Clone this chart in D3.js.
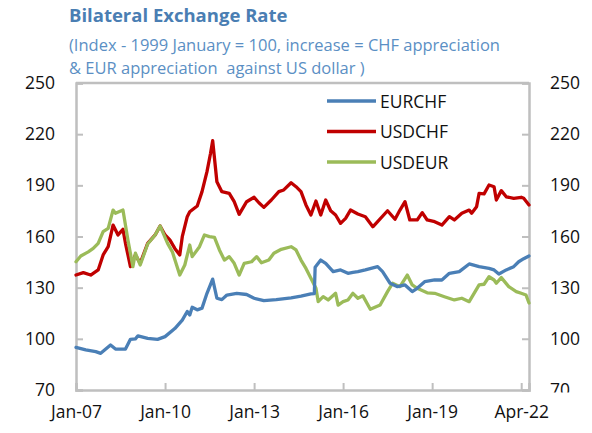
<!DOCTYPE html>
<html><head><meta charset="utf-8">
<script src="https://cdn.jsdelivr.net/npm/d3@7"></script>
<style>body{margin:0;background:#fff} svg{display:block} text{white-space:pre}</style>
</head><body>
<svg id="c" width="592" height="433"></svg>
<script>
// ---------- data ----------
const title = "Bilateral Exchange Rate";
const subtitle1 = "(Index - 1999 January = 100, increase = CHF appreciation";
const subtitle2 = "& EUR appreciation  against US dollar )";
const seriesNames = ["EURCHF", "USDCHF", "USDEUR"];
const xTickDates = ["2007-01-01","2010-01-01","2013-01-01","2016-01-01","2019-01-01","2022-01-01"];
const xTickLabels = ["Jan-07","Jan-10","Jan-13","Jan-16","Jan-19","Apr-22"];
const yTicks = [70, 100, 130, 160, 190, 220, 250];

const eurchfDates = ["2007-01-01","2007-05-01","2007-09-01","2007-11-01","2008-03-01","2008-05-01","2008-09-01","2008-11-01","2009-01-01","2009-02-01","2009-06-01","2009-10-01","2010-01-01","2010-05-01","2010-08-01","2010-10-01","2010-11-01","2010-12-01","2011-02-01","2011-04-01","2011-06-01","2011-08-10","2011-10-01","2011-12-01","2012-02-01","2012-06-01","2012-10-01","2013-01-01","2013-05-01","2013-10-01","2014-04-01","2014-08-01","2014-12-01","2015-01-12","2015-01-22","2015-04-01","2015-06-01","2015-09-01","2015-12-01","2016-03-01","2016-05-01","2016-07-01","2016-10-01","2017-03-01","2017-05-01","2017-08-01","2017-11-01","2018-02-01","2018-05-01","2018-07-01","2018-10-01","2019-02-01","2019-05-01","2019-08-01","2019-12-01","2020-04-01","2020-08-01","2020-12-01","2021-02-01","2021-04-01","2021-07-01","2021-10-01","2021-12-01","2022-02-01","2022-04-07"];
const eurchfValues = [95,93.5,92.5,91.5,96.4,94,94,99.7,100,101.7,100.3,99.7,101.3,106,111,116,114,118.5,117,118,126.7,135,123.8,123,125.7,126.7,126,123.8,122.4,123,124,125,126.3,126.5,142,146.2,144.3,139.4,140.4,138.4,139,139.4,140.4,142.3,139.4,132.6,130.6,131.6,127.7,129.6,133.5,134.5,134.5,138.4,139.4,143.9,142.3,141.3,140.4,138,140.4,142.3,145.2,147,148.6];

const usdchfDates = ["2007-01-01","2007-04-01","2007-07-01","2007-10-01","2007-12-01","2008-02-01","2008-04-01","2008-06-01","2008-08-01","2008-09-01","2008-11-01","2009-01-01","2009-03-01","2009-06-01","2009-09-01","2009-11-01","2010-01-01","2010-03-01","2010-05-01","2010-07-01","2010-08-01","2010-10-01","2010-11-01","2011-02-01","2011-04-01","2011-06-01","2011-07-15","2011-08-10","2011-10-01","2011-12-01","2012-03-01","2012-05-01","2012-07-01","2012-10-01","2013-01-01","2013-03-01","2013-05-01","2013-08-01","2013-11-01","2014-01-01","2014-04-01","2014-06-01","2014-08-01","2014-10-01","2014-12-01","2015-02-01","2015-04-01","2015-06-01","2015-08-01","2015-10-01","2015-12-01","2016-02-01","2016-04-01","2016-07-01","2016-10-01","2017-01-01","2017-03-01","2017-07-01","2017-10-01","2017-12-01","2018-02-01","2018-04-01","2018-07-01","2018-09-01","2018-11-01","2019-02-01","2019-05-01","2019-08-01","2019-10-01","2020-01-01","2020-04-01","2020-05-01","2020-07-01","2020-08-01","2020-10-01","2020-12-01","2021-02-01","2021-03-01","2021-05-01","2021-07-01","2021-10-01","2022-01-01","2022-02-01","2022-04-07"];
const usdchfValues = [137.4,138.8,137.4,140.4,149.2,154,166.7,160.9,164.2,156,142.3,149.2,144.3,156,160.9,166.2,160.9,158,153,149.2,159.9,171.6,174.5,177.9,186.3,198,208.8,216.2,192.1,186.3,185.3,180.4,173,180.4,183,179.8,177.1,181.4,186.3,187.3,191.5,189.2,186.3,178.5,172.6,180.8,172.6,181.4,175.1,172.6,167.7,170.6,175.5,173.2,171.6,165.7,168.7,175.1,170.1,175.5,180.4,169.7,169.7,174,169.7,168.7,166.7,171.6,169.7,173.6,175.5,173.6,177.5,185.3,185,190.2,189.2,181.4,186.9,183.3,182.4,183,182.4,178.5];

const usdeurDates = ["2007-01-01","2007-03-01","2007-06-01","2007-08-01","2007-10-01","2007-12-01","2008-02-01","2008-04-01","2008-05-01","2008-08-01","2008-10-01","2008-12-01","2009-01-01","2009-03-01","2009-06-01","2009-09-01","2009-11-01","2010-02-01","2010-04-01","2010-07-01","2010-09-01","2010-11-01","2010-12-01","2011-03-01","2011-05-01","2011-07-01","2011-09-01","2011-11-01","2012-01-01","2012-03-01","2012-05-01","2012-07-01","2012-09-01","2012-12-01","2013-02-01","2013-04-01","2013-07-01","2013-09-01","2013-12-01","2014-04-01","2014-06-01","2014-08-01","2014-10-01","2014-12-01","2015-02-01","2015-03-01","2015-05-01","2015-07-01","2015-10-01","2015-11-01","2016-01-01","2016-03-01","2016-05-01","2016-07-01","2016-09-01","2016-12-01","2017-04-01","2017-07-01","2017-09-01","2017-12-01","2018-03-01","2018-05-01","2018-07-01","2018-11-01","2019-02-01","2019-06-01","2019-10-01","2020-01-01","2020-04-01","2020-08-01","2020-10-01","2020-12-01","2021-02-01","2021-03-01","2021-05-01","2021-08-01","2021-11-01","2022-01-01","2022-03-01","2022-04-07"];
const usdeurValues = [145.2,148.6,151,153,156,162.8,164.8,175.5,173.6,175.5,158,142.3,150.2,143.3,155.6,160.9,166.2,156,151,137.4,143.3,155,148.2,154,160.9,159.9,159.5,152.1,146.2,148.2,144.3,137.4,144.3,145.2,148.2,144.6,146.2,150.2,152.5,154,152.1,146.2,141.3,135.5,129.6,121.8,124.7,122.8,126.7,119.8,121.8,122.8,126.7,123.8,125.2,117.3,119.8,127.7,132.6,130.6,137.4,131.6,129.6,127,126.7,124.7,122.8,123.8,121.8,131.6,132,136.4,134.5,132.6,135.9,130.6,127.7,126.7,125.7,121];

const seriesColors = ["#4a7fb6", "#c00000", "#9bbb59"];

// ---------- chart ----------
(function () {
const svg = d3.select("#c");
const font = "'Open Sans', sans-serif";
const pL = 76, pR = 529, pT = 83, pB = 390;
const parse = d3.utcParse("%Y-%m-%d");

const x = d3.scaleUtc().domain([parse("2007-01-01"), parse("2022-04-07")]).range([pL, pR]);
const y = d3.scaleLinear().domain([70, 250]).range([pB, pT]);

svg.append("text").attr("x", 69).attr("y", 22).attr("fill", "#4a7eb3")
  .attr("font-family", font).attr("font-weight", "bold").attr("font-size", 18.5).text(title);
svg.append("text").attr("x", 69).attr("y", 51).attr("fill", "#5b8fc4")
  .attr("font-family", font).attr("font-size", 16.5).text(subtitle1);
svg.append("text").attr("x", 69).attr("y", 74).attr("fill", "#5b8fc4")
  .attr("font-family", font).attr("font-size", 16.5).text(subtitle2);

const axisColor = "#bfbfbf";

const yl = svg.append("g").attr("transform", `translate(${pL},0)`)
  .call(d3.axisLeft(y).tickValues(yTicks).tickSize(-7).tickPadding(21));
const yr = svg.append("g").attr("transform", `translate(${pR},0)`)
  .call(d3.axisRight(y).tickValues(yTicks).tickSize(-7).tickPadding(21));
const xa = svg.append("g").attr("transform", `translate(0,${pB})`)
  .call(d3.axisBottom(x).tickValues(xTickDates.map(parse))
    .tickFormat((d, i) => xTickLabels[i]).tickSize(-7).tickPadding(16));

[yl, yr, xa].forEach(g => {
  g.select(".domain").attr("stroke", axisColor).attr("stroke-width", 2.5);
  g.selectAll(".tick line").attr("stroke", axisColor).attr("stroke-width", 2);
  g.selectAll(".tick text").attr("font-family", font).attr("font-size", 17.5).attr("fill", "#111");
});
yr.selectAll(".tick text").attr("text-anchor", "start");
svg.append("line").attr("x1", pL).attr("x2", pR).attr("y1", pT).attr("y2", pT)
  .attr("stroke", axisColor).attr("stroke-width", 2.5);

// clip the right-hand "70" at the bottom, as in the reference (coords local to the axis group)
svg.append("clipPath").attr("id", "rclip").append("rect")
  .attr("x", -10).attr("y", 0).attr("width", 100).attr("height", 392.5);
yr.attr("clip-path", "url(#rclip)");

const line = d3.line().x(d => x(d[0])).y(d => y(d[1]));
const allSeries = [
  d3.zip(eurchfDates.map(parse), eurchfValues),
  d3.zip(usdchfDates.map(parse), usdchfValues),
  d3.zip(usdeurDates.map(parse), usdeurValues)
];
[1, 2, 0].forEach(i => {
  svg.append("path").datum(allSeries[i]).attr("fill", "none")
    .attr("stroke", seriesColors[i]).attr("stroke-width", 3.3)
    .attr("stroke-linejoin", "round").attr("stroke-linecap", "round")
    .attr("d", line);
});

seriesNames.forEach((name, i) => {
  const ly = 101 + i * 30.5;
  svg.append("line").attr("x1", 327).attr("x2", 376).attr("y1", ly).attr("y2", ly)
    .attr("stroke", seriesColors[i]).attr("stroke-width", 3.5);
  svg.append("text").attr("x", 380).attr("y", ly + 6.5).attr("font-family", font)
    .attr("font-size", 17.5).attr("fill", "#111").text(name);
});
})();
</script>
</body></html>
